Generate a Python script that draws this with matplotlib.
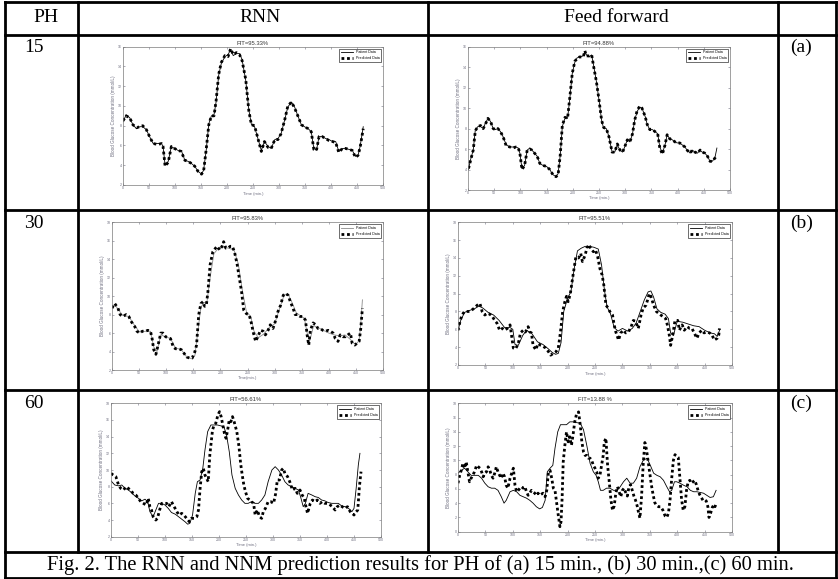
import matplotlib
matplotlib.use('Agg')
import matplotlib.pyplot as plt

# ---------------- data ----------------
# PH = 15, RNN
rnn15_t = [0,6,13,19,26,32,38,45,51,58,67,74,77,81,87,93,99,106,112,119,125,131,138,144,151,155,160,165,170,175,
           179,184,189,196,202,207,212,218,224,229,236,242,247,253,260,266,272,279,285,292,298,304,311,317,324,330,
           337,343,349,356,362,367,372,377,383,390,396,403,409,415,422,428,435,441,447,452,456,462]
rnn15_patient = [8.4,9.1,8.8,8.1,7.7,7.9,7.9,7.6,6.9,6.2,6.2,6.2,5.9,4.0,4.4,5.9,5.7,5.5,5.5,4.5,4.4,4.2,3.9,3.4,3.1,
                 3.5,5.5,8.2,9.0,9.1,10.4,13.1,14.3,15.0,15.2,15.7,15.1,15.3,15.3,14.7,12.6,9.6,8.1,7.9,6.6,5.5,6.4,
                 5.9,5.7,6.6,6.7,7.2,8.6,9.9,10.4,9.9,8.9,8.1,7.9,7.7,7.4,5.7,5.5,6.9,6.9,6.7,6.6,6.4,6.4,5.4,5.7,
                 5.7,5.6,5.5,4.9,5.0,5.9,7.9]
rnn15_pred = [8.5,9.0,8.8,8.1,7.8,7.9,8.0,7.6,6.9,6.2,6.1,6.2,5.9,3.9,4.3,5.9,5.7,5.5,5.4,4.5,4.4,4.2,3.9,3.4,3.1,
              3.4,5.6,8.1,9.0,9.0,10.5,13.2,14.4,15.1,15.0,15.8,15.2,15.4,15.2,14.6,12.7,9.5,8.1,8.0,6.6,5.4,6.4,
              5.8,5.7,6.6,6.6,7.2,8.6,10.0,10.4,9.8,8.9,8.1,7.9,7.7,7.4,5.6,5.5,6.9,6.9,6.7,6.5,6.4,6.3,5.3,5.7,
              5.7,5.6,5.5,4.8,5.0,5.8,7.7]

# PH = 15, Feed forward
ff15_t = [1,4,10,14,19,24,29,33,38,43,48,52,57,62,67,73,80,86,91,96,99,103,108,113,118,122,127,132,137,143,
          150,156,162,168,172,176,180,185,190,194,199,204,208,213,220,223,226,231,236,240,245,250,255,259,264,269,
          275,280,285,290,295,299,304,309,314,318,323,328,332,338,342,347,352,357,362,366,371,376,380,385,390,395,
          399,404,409,414,418,424,428,433,438,443,447,452,457,462,466,471,475]
ff15_patient = [4.0,4.8,5.9,7.9,8.2,8.2,8.0,8.5,9.0,8.7,8.0,7.9,8.0,7.7,7.2,6.4,6.2,6.2,6.2,6.1,5.6,4.1,4.4,5.9,6.1,
                5.9,5.6,5.3,4.6,4.4,4.3,4.0,3.5,3.3,3.6,5.4,8.2,9.0,9.0,10.8,13.4,14.5,14.9,15.0,15.1,15.5,15.2,
                15.0,15.2,14.1,12.6,10.8,8.8,8.0,8.0,7.2,5.7,5.7,6.4,5.9,5.7,6.2,6.9,6.7,7.5,8.8,9.7,10.1,10.0,9.2,
                8.4,7.9,7.9,7.7,7.5,6.2,5.6,6.4,7.4,7.0,6.9,6.7,6.6,6.6,6.4,6.2,5.9,5.6,5.9,5.7,5.6,5.9,5.7,5.6,
                5.3,4.8,4.8,5.1,6.1]
ff15_pred = [4.1,4.7,5.9,7.8,8.2,8.3,8.0,8.4,9.0,8.7,8.0,7.9,8.0,7.7,7.2,6.3,6.2,6.1,6.2,6.1,5.6,4.0,4.4,5.9,6.0,
             5.9,5.6,5.3,4.6,4.4,4.3,4.0,3.5,3.3,3.5,5.4,8.3,9.1,9.0,10.9,13.4,14.6,14.8,15.0,15.0,15.6,15.1,15.1,
             15.2,14.0,12.6,10.8,8.8,8.1,8.0,7.2,5.7,5.7,6.5,5.9,5.7,6.2,6.9,6.7,7.5,8.8,9.8,10.2,10.0,9.2,8.4,7.9,
             7.9,7.7,7.5,6.1,5.5,6.4,7.4,7.0,6.9,6.7,6.6,6.6,6.4,6.2,5.9,5.6,5.9,5.7,5.6,5.9,5.7,5.6,5.3,4.8,4.8,
             5.1,5.4]

# PH = 30, RNN
rnn30_patient_t = [0,5,11,20,31,42,51,62,71,77,83,90,99,108,117,128,138,148,153,158,164,170,175,181,188,195,205,
                   215,225,233,240,248,256,262,270,280,290,300,310,318,325,333,340,347,355,360,365,372,380,390,400,
                   410,420,430,440,448,452,456,459,462]
rnn30_patient = [8.8,9.1,8.6,7.9,7.8,6.8,6.1,6.2,6.2,4.5,4.0,5.8,5.6,5.4,4.4,4.2,3.4,3.2,3.6,6.0,8.8,9.3,9.3,12.0,
                 14.6,15.1,15.3,15.2,15.0,13.5,10.8,8.3,7.8,6.2,5.5,5.9,6.6,7.0,8.8,10.2,10.2,9.2,8.2,7.9,7.6,6.0,
                 5.2,6.8,6.6,6.3,6.0,5.8,5.7,5.8,5.3,4.8,4.9,5.2,7.0,9.6]
rnn30_pred_t = [0,5,11,15,20,26,31,36,42,46,51,56,62,66,71,74,77,81,85,90,94,99,103,108,113,117,123,128,133,138,
                143,148,153,156,160,164,168,171,174,177,181,186,191,194,199,203,206,210,214,218,222,226,231,234,239,
                243,248,253,257,261,265,269,274,279,283,288,292,297,301,306,311,316,320,325,329,334,338,343,347,352,
                357,360,363,366,371,376,380,384,389,394,399,403,408,412,417,421,426,431,435,440,443,448,452,456,459,462]
rnn30_pred = [8.7,9.2,8.7,8.0,7.8,8.0,7.8,7.2,6.7,6.2,6.0,6.2,6.2,6.3,6.2,5.4,4.2,3.7,4.7,6.0,6.0,5.6,5.5,5.4,4.5,
              4.3,4.3,4.2,3.8,3.4,3.3,3.3,4.0,4.7,8.0,9.2,9.4,8.9,9.0,10.5,13.4,14.8,15.2,15.4,15.0,15.4,15.9,15.2,
              15.2,15.4,15.4,14.8,13.4,12.3,10.5,8.5,8.1,8.0,7.1,6.0,5.1,5.6,6.3,6.2,5.8,6.3,6.9,6.5,7.2,8.3,9.0,
              10.1,10.3,10.1,9.4,8.7,8.0,8.0,7.8,7.8,7.4,5.8,4.7,6.3,7.1,6.9,6.5,6.5,6.3,6.2,6.3,6.2,6.0,5.4,5.1,
              5.8,5.6,5.6,5.8,6.0,4.9,4.7,4.9,5.1,6.5,8.7]

# PH = 30, Feed forward
ff30_patient_t = [0,5,12,20,30,38,45,55,65,75,85,95,100,104,110,118,125,135,145,155,165,172,178,183,188,193,
                  200,206,212,218,225,232,240,248,256,262,267,272,278,285,292,300,310,318,325,332,340,347,352,357,
                  363,370,378,384,388,393,400,410,420,430,440,450,460,468,473,478]
ff30_patient = [5.9,7.0,7.9,8.1,8.3,8.6,8.4,7.9,7.6,7.0,6.2,6.2,6.0,4.3,4.2,5.3,5.9,5.5,4.6,4.3,3.8,3.4,3.2,3.3,4.5,
                8.0,9.5,10.2,12.8,14.8,15.1,15.3,15.3,15.2,15.0,13.2,10.5,8.5,7.8,6.2,5.8,6.1,5.8,6.1,6.7,7.9,9.3,
                10.2,10.3,9.6,8.3,7.9,7.7,7.2,5.6,5.3,6.9,6.8,6.6,6.4,6.3,5.9,5.6,5.5,5.2,6.0]
ff30_pred_t = [0,3,7,12,16,21,26,30,35,40,44,49,53,58,63,67,71,76,81,85,90,95,98,101,105,110,114,119,123,128,131,134,
               137,142,146,151,155,160,165,169,174,179,183,187,191,195,198,201,205,210,215,220,224,227,232,235,239,242,
               247,251,255,259,263,266,270,274,277,282,285,288,293,297,302,306,311,316,320,324,329,334,338,343,346,349,
               352,357,362,366,370,375,379,382,386,388,392,396,401,404,409,413,418,423,427,431,436,440,445,449,454,459,
               463,468,473,476,477]
ff30_pred = [5.9,6.7,7.6,8.0,8.0,8.0,8.2,8.4,8.7,8.9,8.0,7.6,7.8,7.7,7.4,7.0,6.7,5.9,6.1,5.9,6.1,6.5,5.2,3.9,3.8,4.4,
             5.6,5.9,5.7,6.3,5.7,5.6,4.2,3.7,4.4,4.2,4.1,3.9,3.5,3.1,3.3,3.5,3.9,5.7,8.0,9.1,9.7,9.1,10.0,12.1,14.1,
             14.0,14.5,13.6,14.3,15.1,15.5,15.1,14.7,14.9,14.1,12.8,12.1,11.0,8.7,8.4,8.0,7.6,6.5,5.7,4.8,5.6,5.9,
             5.6,5.7,6.3,7.0,6.9,6.1,7.6,8.4,8.7,9.3,10.0,9.7,8.7,8.0,7.8,7.6,7.4,7.2,6.5,5.2,4.2,5.4,7.0,7.0,5.9,
             6.5,5.9,6.3,6.1,6.1,5.6,5.0,5.6,5.9,5.6,5.7,5.6,5.4,4.8,5.0,5.4,6.1]

# PH = 60, RNN
rnn60_patient_t = [0,7,14,20,26,32,38,44,51,57,63,68,72,78,83,88,94,100,106,112,119,125,131,137,142,146,151,156,160,
                   165,170,174,179,185,191,197,203,209,214,219,224,230,236,242,248,254,260,267,273,279,285,291,298,
                   304,310,316,322,328,335,341,347,351,356,360,365,372,378,384,390,396,402,409,415,421,427,433,440,
                   446,450,454,458,461]
rnn60_patient = [8.7,8.2,8.1,8.2,7.8,7.6,7.3,6.9,6.6,6.3,6.5,6.2,5.0,4.4,5.2,6.0,6.0,5.8,5.4,4.9,4.7,4.4,4.1,3.8,3.5,
                 3.6,4.6,7.2,8.6,8.8,10.2,12.4,14.6,15.4,15.4,15.4,15.3,15.2,14.2,12.2,9.4,7.8,7.0,6.4,6.0,6.0,6.2,
                 6.0,6.0,6.4,7.0,8.6,10.0,10.4,10.0,9.4,8.6,8.2,8.0,7.8,7.6,6.8,5.6,6.0,7.2,7.0,6.8,6.7,6.4,6.3,6.1,
                 6.0,6.0,6.0,5.7,5.6,5.4,5.0,5.4,7.8,10.6,12.0]
rnn60_pred_t = [0,4,9,14,18,23,28,32,36,41,46,51,55,60,65,69,72,75,78,83,86,90,94,98,103,107,112,117,122,126,131,135,
                140,145,149,154,159,162,165,168,171,174,177,180,183,188,191,194,198,201,204,207,210,213,216,219,222,
                225,228,233,237,240,243,246,249,253,257,260,264,267,271,275,279,282,286,291,296,301,305,308,312,316,
                319,322,327,331,336,341,345,350,354,358,361,364,369,373,378,382,387,391,396,401,406,410,415,419,424,
                428,433,438,443,447,450,454,457,460,463]
rnn60_pred = [9.6,9.4,9.2,8.2,7.8,7.6,8.0,7.8,7.6,7.2,7.0,6.6,6.2,6.0,5.8,6.6,5.6,5.2,4.4,4.0,4.2,5.2,6.0,6.0,6.0,5.6,
              6.2,5.6,5.0,4.6,4.8,4.6,4.2,3.8,4.2,4.2,4.4,5.2,7.8,9.8,10.2,9.4,9.0,8.6,11.8,14.8,15.4,15.6,16.6,17.0,
              16.4,15.4,14.4,13.8,14.8,16.0,15.8,16.4,15.8,14.6,12.8,10.8,9.4,8.2,7.4,6.6,6.4,6.2,6.0,4.6,5.2,4.4,
              4.2,5.0,5.4,6.2,6.2,6.0,7.2,8.8,8.8,10.0,10.2,9.6,9.2,8.6,7.6,7.8,7.2,7.6,7.0,6.6,5.6,4.8,6.0,6.4,6.2,
              6.4,6.0,6.2,6.0,6.0,5.8,5.6,5.2,5.6,5.8,5.6,5.4,5.6,5.0,4.8,4.6,5.0,5.2,8.0,9.8]

# PH = 60, Feed forward
ff60_patient_t = [0,6,12,18,24,30,37,43,49,55,61,67,73,79,84,88,95,101,107,113,119,125,131,137,143,149,154,159,163,
                  168,173,177,182,187,192,198,204,210,216,223,229,235,241,247,252,256,260,265,271,277,284,290,296,
                  302,308,314,320,326,332,338,345,351,357,363,369,375,381,386,390,395,399,405,412,418,424,430,436,
                  442,448,454,460,466,471]
ff60_patient = [8.2,8.6,8.9,8.4,7.9,7.9,7.9,7.5,6.8,6.3,6.1,6.1,5.8,4.9,4.0,4.4,5.6,5.8,5.6,5.1,4.9,4.7,4.4,4.0,3.5,
                3.2,3.4,4.4,8.4,8.9,9.3,11.7,14.0,15.0,15.0,15.0,15.4,15.4,15.3,15.2,14.3,12.1,9.6,8.4,7.9,7.0,5.8,
                5.8,6.1,6.1,5.8,5.8,6.3,7.0,7.5,6.8,6.8,7.5,9.1,10.0,10.3,9.3,8.2,7.9,7.7,7.2,6.3,5.6,5.8,7.0,7.0,
                6.8,6.5,6.3,5.8,5.6,5.6,5.5,5.4,5.1,4.8,4.9,5.8]
ff60_pred_t = [0,3,6,9,12,15,18,21,24,27,30,34,37,40,43,46,49,52,55,58,61,64,67,70,73,76,79,82,85,88,91,95,98,101,
               104,107,110,113,116,119,122,125,128,131,134,137,140,143,146,149,155,159,162,165,168,171,174,177,180,
               183,186,188,190,192,195,198,201,204,207,210,213,216,220,223,226,229,232,235,238,241,244,247,250,253,
               256,259,262,265,267,270,271,273,276,279,282,285,288,291,294,297,300,303,306,309,312,315,318,321,324,
               327,330,332,335,338,341,344,347,350,353,356,359,362,366,370,374,378,381,384,387,390,393,396,399,402,
               405,408,411,414,417,420,423,426,429,432,435,438,441,444,447,450,453,456,458,461,464,467,469,471]
ff60_pred = [6.8,7.9,8.6,9.6,8.9,9.8,8.4,7.0,7.5,7.9,8.4,9.3,9.1,8.9,8.4,7.7,8.2,8.4,9.1,8.6,7.9,7.5,8.2,9.1,8.4,7.9,
             7.5,8.2,7.7,6.5,6.1,7.5,8.2,8.9,6.5,5.6,5.8,6.1,6.3,6.1,6.3,5.6,5.1,5.4,5.8,5.6,5.4,5.1,5.4,5.1,5.4,4.9,
             5.8,8.4,8.6,7.5,6.1,5.8,4.0,2.3,0.7,1.4,4.7,9.8,12.1,14.0,12.6,13.3,12.1,13.6,15.4,16.4,16.8,15.0,12.6,
             11.2,10.7,10.7,10.3,10.3,10.0,9.3,8.9,8.4,7.5,7.9,9.3,10.7,12.6,13.1,11.7,9.3,7.0,4.5,3.0,3.6,5.4,6.3,
             5.6,4.9,5.8,6.1,5.5,5.0,6.3,6.6,5.8,5.0,4.4,3.6,2.5,1.9,5.0,9.5,12.5,11.5,9.8,8.0,6.5,5.2,4.1,3.7,3.5,
             3.5,3.0,2.2,2.0,2.6,4.5,7.5,10.0,10.8,10.6,10.4,7.5,4.5,3.0,3.5,5.8,7.0,7.2,6.8,7.0,7.2,6.6,5.8,5.2,
             4.8,4.4,4.5,4.3,3.5,2.0,2.6,3.4,3.8,3.5,4.0]

x_ticks = [0, 50, 100, 150, 200, 250, 300, 350, 400, 450, 500]
header_labels = ["PH", "RNN", "Feed forward"]
ph_labels = ["15", "30", "60"]
row_tags = ["(a)", "(b)", "(c)"]
fit_titles = [["FIT=95.33%", "FIT=94.88%"], ["FIT=95.83%", "FIT=95.51%"], ["FIT=56.61%", "FIT=13.88 %"]]
caption = "Fig. 2. The RNN and NNM prediction results for PH of (a) 15 min., (b) 30 min.,(c) 60 min."

# ---------------- figure ----------------
W, H = 838, 579
fig = plt.figure(figsize=(W / 100, H / 100), dpi=100)
fig.patch.set_facecolor('white')

bg = fig.add_axes([0, 0, 1, 1])
bg.set_xlim(0, W)
bg.set_ylim(H, 0)
bg.axis('off')

LW = 2.0
XL, XPH, XMID, XLAB, XR = 5, 78, 428, 778, 836
YT, YHDR, YR1, YR2, YR3, YB = 1.5, 34.5, 210, 390, 552, 577.5


def hl(y, x0=XL, x1=XR):
    bg.plot([x0, x1], [y, y], color='black', lw=LW, solid_capstyle='projecting')


def vl(x, y0, y1):
    bg.plot([x, x], [y0, y1], color='black', lw=LW, solid_capstyle='projecting')


for y in (YT, YHDR, YR1, YR2, YR3, YB):
    hl(y)
vl(XL, YT, YB)
vl(XR, YT, YB)
for x in (XPH, XMID, XLAB):
    vl(x, YT, YR3)

SERIF = ['Liberation Serif', 'DejaVu Serif']
SANS = ['Liberation Sans', 'DejaVu Sans']
FS = 14
bg.text(46, 18, header_labels[0], ha='center', va='center', fontsize=FS, family=SERIF)
bg.text(260, 18, header_labels[1], ha='center', va='center', fontsize=FS, family=SERIF)
bg.text(616, 18, header_labels[2], ha='center', va='center', fontsize=FS, family=SERIF)
for (ytop, ph, tag) in zip((YHDR, YR1, YR2), ph_labels, row_tags):
    bg.text(24, ytop + 13, ph, ha='left', va='center', fontsize=FS, family=SERIF)
    bg.text(790, ytop + 13, tag, ha='left', va='center', fontsize=FS, family=SERIF)
bg.text(420, 565, caption, ha='center', va='center', fontsize=14.8, family=SERIF)

TICKC = '#6f6f80'
SPC = '#7a7a7a'


def panel(box, ylim, title, xlabel, pt, py, qt, qy, pat_color='black'):
    l, r, t, b = box
    ax = fig.add_axes([l / W, 1 - b / H, (r - l) / W, (b - t) / H])
    ax.plot(pt, py, color=pat_color, lw=0.6, label='Patient Data')
    ax.plot(qt, qy, color='black', lw=2.0, linestyle=(0, (1, 1)), dash_capstyle='butt',
            label='Predicted Data')
    ax.set_xlim(0, 500)
    ax.set_ylim(*ylim)
    ax.set_xticks(x_ticks)
    ax.set_yticks(list(range(ylim[0], ylim[1] + 1, 2)))
    ax.tick_params(direction='in', length=1.5, width=0.4, top=True, right=True,
                   labelsize=2.6, colors=TICKC, pad=1)
    for lab in ax.get_xticklabels() + ax.get_yticklabels():
        lab.set_family(SANS)
    for s in ax.spines.values():
        s.set_color(SPC)
        s.set_linewidth(0.5)
    ax.set_title(title, fontsize=4.2, pad=1.5, color='#333333', family=SANS)
    ax.set_xlabel(xlabel, fontsize=3.0, labelpad=0.8, color=TICKC, family=SANS)
    ax.set_ylabel('Blood Glucose Concentration (mmol/L)', fontsize=3.3, labelpad=1.5,
                  color=TICKC, family=SANS)
    leg = ax.legend(loc='upper right', prop={'family': SANS, 'size': 2.6}, frameon=True,
                    fancybox=False, edgecolor='black', framealpha=1, handlelength=3.2,
                    borderpad=0.5, labelspacing=0.6, borderaxespad=0.5)
    leg.get_frame().set_linewidth(0.4)
    return ax


panel((123, 383, 46.7, 185), (2, 16), fit_titles[0][0], 'Time (min.)',
      rnn15_t, rnn15_patient, rnn15_t, rnn15_pred)
panel((468, 730, 46.7, 190), (2, 16), fit_titles[0][1], 'Time (min.)',
      ff15_t, ff15_patient, ff15_t, ff15_pred)
panel((112, 383, 222.3, 370), (2, 18), fit_titles[1][0], 'Time(min.)',
      rnn30_patient_t, rnn30_patient, rnn30_pred_t, rnn30_pred, pat_color='#8a8a8a')
panel((458, 732, 222.3, 365), (2, 18), fit_titles[1][1], 'Time (min.)',
      ff30_patient_t, ff30_patient, ff30_pred_t, ff30_pred)
panel((111, 381, 403.3, 536.7), (2, 18), fit_titles[2][0], 'Time (min.)',
      rnn60_patient_t, rnn60_patient, rnn60_pred_t, rnn60_pred)
panel((458, 732, 403.3, 531.7), (0, 18), fit_titles[2][1], 'Time (min.)',
      ff60_patient_t, ff60_patient, ff60_pred_t, ff60_pred)

fig.savefig('out.png', dpi=100, facecolor='white')
